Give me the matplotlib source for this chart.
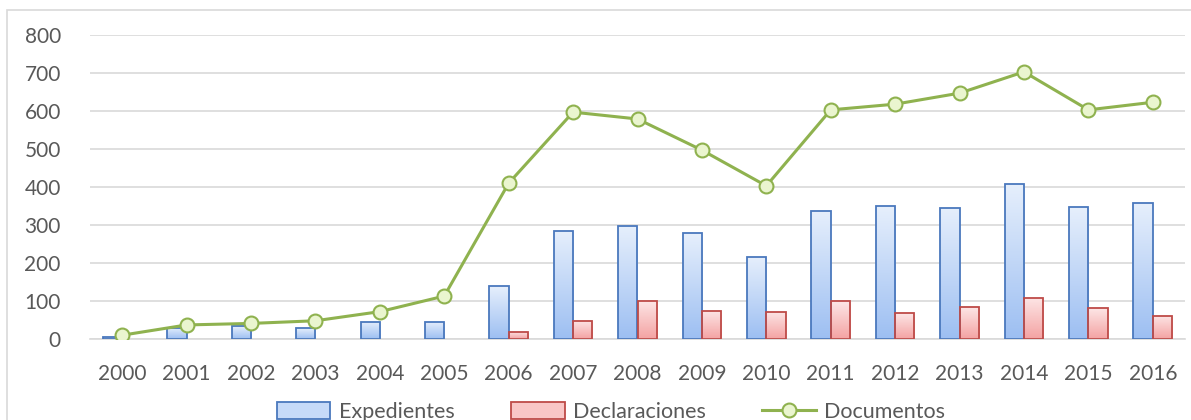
import matplotlib
matplotlib.use("Agg")
import matplotlib.pyplot as plt
import numpy as np
from matplotlib.patches import Rectangle, Patch
from matplotlib.lines import Line2D

years = ["2000", "2001", "2002", "2003", "2004", "2005", "2006", "2007", "2008",
         "2009", "2010", "2011", "2012", "2013", "2014", "2015", "2016"]
expedientes = [5, 30, 33, 28, 46, 46, 139, 285, 298, 278, 217, 337, 350, 346, 409, 347, 357]
declaraciones = [0, 0, 0, 0, 0, 0, 19, 48, 101, 75, 72, 100, 68, 83, 109, 81, 61]
documentos = [10, 37, 41, 48, 72, 113, 410, 597, 579, 497, 403, 603, 618, 647, 703, 603, 623]
yticks = [0, 100, 200, 300, 400, 500, 600, 700, 800]

plt.rcParams['font.family'] = ['Lato', 'DejaVu Sans']
txt = '#595959'

fig = plt.figure(figsize=(11.91, 4.2), dpi=100)
fig.patches.append(Rectangle((7/1191, -0.1), 1.2, (420-10)/420 + 0.1, transform=fig.transFigure,
                             fill=False, edgecolor='#d9d9d9', linewidth=1.2))
ax = fig.add_axes([90/1191, (420-339)/420, (1185-90)/1191, (339-35)/420])

x = np.arange(len(years))
w = 0.3

def grad_bars(xs, hs, top, bottom, edge):
    grad = np.linspace(0, 1, 100).reshape(-1, 1)
    cmap = matplotlib.colors.LinearSegmentedColormap.from_list('g', [bottom, top])
    bars = ax.bar(xs, hs, width=w, facecolor='none', edgecolor=edge, linewidth=1.3, zorder=3)
    for b, h in zip(bars, hs):
        if h <= 0:
            b.set_linewidth(0)
            continue
        x0 = b.get_x()
        im = ax.imshow(grad, extent=[x0, x0 + w, 0, h], origin='lower', aspect='auto',
                       cmap=cmap, zorder=2.5, interpolation='bicubic')
        im.set_clip_path(b)
    return bars

grad_bars(x - w/2, expedientes, '#e6effc', '#9dbff2', '#4a78bd')
grad_bars(x + w/2, declaraciones, '#fde6e6', '#f4a3a3', '#be4b48')

ax.plot(x, documentos, color='#8fb24f', linewidth=2.2, marker='o', markersize=10,
        markerfacecolor='#eaf5cf', markeredgecolor='#8fb24f', markeredgewidth=1.5, zorder=4)

ax.set_xlim(-0.5, len(years) - 0.5)
ax.set_ylim(0, 800)
ax.set_yticks(yticks)
ax.set_xticks(x)
ax.set_xticklabels(years)
ax.grid(axis='y', color='#d9d9d9', linewidth=1.2, zorder=0)
ax.set_axisbelow(True)
for s in ['top', 'right', 'left']:
    ax.spines[s].set_visible(False)
ax.spines['bottom'].set_color('#d9d9d9')
ax.spines['bottom'].set_linewidth(1.2)
ax.tick_params(axis='both', length=0, labelsize=15, labelcolor=txt)
ax.tick_params(axis='y', pad=21)
ax.tick_params(axis='x', pad=18)

handles = [Patch(facecolor='#c6daf8', edgecolor='#4a78bd', linewidth=1.3),
           Patch(facecolor='#f9c6c6', edgecolor='#be4b48', linewidth=1.3),
           Line2D([0], [0], color='#8fb24f', linewidth=2.2, marker='o', markersize=10,
                  markerfacecolor='#eaf5cf', markeredgecolor='#8fb24f', markeredgewidth=1.5)]
leg = fig.legend(handles, ['Expedientes', 'Declaraciones', 'Documentos'], loc='center',
                 bbox_to_anchor=(611/1191, 8/420), ncol=3, frameon=False, fontsize=15.5,
                 handlelength=2.5, handleheight=0.8, columnspacing=2.6, handletextpad=0.4,
                 labelcolor=txt)

fig.savefig('out.png', dpi=100)
